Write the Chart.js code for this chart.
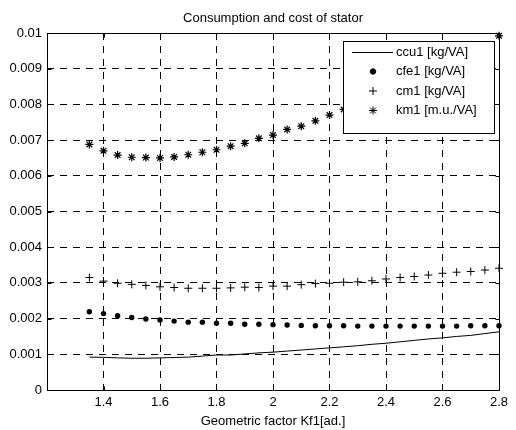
<!DOCTYPE html>
<html>
<head>
<meta charset="utf-8">
<script src="https://cdn.jsdelivr.net/npm/chart.js@4.4.0/dist/chart.umd.min.js"></script>
<style>
html, body { margin: 0; padding: 0; background: #fff; }
</style>
</head>
<body>
<canvas id="myChart" width="516" height="430"></canvas>
<script>
// geometric factor Kf1 and stator consumption / cost per VA
var kf1 = [1.35, 1.40, 1.45, 1.50, 1.55, 1.60, 1.65, 1.70, 1.75, 1.80,
           1.85, 1.90, 1.95, 2.00, 2.05, 2.10, 2.15, 2.20, 2.25, 2.30,
           2.35, 2.40, 2.45, 2.50, 2.55, 2.60, 2.65, 2.70, 2.75, 2.80];
var ccu1 = [0.00092, 0.000915, 0.00090, 0.00089, 0.00089, 0.00090, 0.00091, 0.00092, 0.00095, 0.00098,
            0.00098, 0.00101, 0.00104, 0.00106, 0.00109, 0.00112, 0.00115, 0.00118, 0.00121, 0.00124,
            0.00128, 0.00131, 0.00135, 0.00139, 0.00143, 0.00146, 0.00150, 0.00153, 0.00158, 0.00163];
var cfe1 = [0.00219, 0.00214, 0.00208, 0.00203, 0.00199, 0.00196, 0.00193, 0.00190, 0.00190, 0.00187,
            0.00187, 0.00184, 0.00184, 0.00183, 0.00182, 0.00181, 0.00180, 0.00180, 0.00180, 0.00179,
            0.00179, 0.00179, 0.00179, 0.00179, 0.00179, 0.00179, 0.00179, 0.00180, 0.00180, 0.00180];
var cm1 = [0.00315, 0.00305, 0.00299, 0.00296, 0.00293, 0.00289, 0.00287, 0.00285, 0.00285, 0.00285,
           0.00286, 0.00288, 0.00287, 0.00291, 0.00291, 0.00295, 0.00298, 0.00299, 0.00302, 0.00303,
           0.00306, 0.00311, 0.00315, 0.00318, 0.00322, 0.00327, 0.00330, 0.00332, 0.00336, 0.00341];
var km1 = [0.00688, 0.00670, 0.00658, 0.00652, 0.00651, 0.00650, 0.00653, 0.00659, 0.00666, 0.00673,
           0.00683, 0.00691, 0.00705, 0.00714, 0.00730, 0.00739, 0.00754, 0.00770, 0.00786, 0.00802,
           0.00819, 0.00836, 0.00853, 0.00870, 0.00887, 0.00904, 0.00922, 0.00940, 0.00960, 0.00992];
var seriesNames = ['ccu1 [kg/VA]', 'cfe1 [kg/VA]', 'cm1 [kg/VA]', 'km1 [m.u./VA]'];
var plotTitle = 'Consumption and cost of stator';

var FONT = 'Liberation Sans, Arial, sans-serif';

function pts(ys) {
    var out = [];
    for (let i = 0; i < kf1.length; i++) {
        out.push({ x: kf1[i], y: ys[i] });
    }
    return out;
}

// title centred over the axes rather than the whole canvas
var axesTitle = {
    id: 'axesTitle',
    afterDraw(chart) {
        var ctx = chart.ctx;
        var a = chart.chartArea;
        ctx.save();
        ctx.font = '13px ' + FONT;
        ctx.fillStyle = '#000';
        ctx.textAlign = 'center';
        ctx.textBaseline = 'middle';
        ctx.fillText(plotTitle, (a.left + a.right) / 2, a.top - 15);
        ctx.restore();
    }
};

// legend drawn inside the axes, top right, with a white box
var boxLegend = {
    id: 'boxLegend',
    afterDatasetsDraw(chart) {
        var ctx = chart.ctx;
        var area = chart.chartArea;
        var w = 151, h = 92;
        var x0 = area.right - 5 - w;
        var y0 = area.top + 8;
        ctx.save();
        ctx.fillStyle = '#fff';
        ctx.fillRect(x0, y0, w, h);
        ctx.strokeStyle = '#000';
        ctx.lineWidth = 1;
        ctx.strokeRect(Math.round(x0) + 0.5, Math.round(y0) + 0.5, w, h);
        ctx.font = '13px ' + FONT;
        ctx.textBaseline = 'middle';
        ctx.fillStyle = '#000';
        chart.data.datasets.forEach(function (ds, i) {
            var cy = y0 + 11 + i * 19.5;
            var cx = x0 + 30;
            if (ds.showLine !== false) {
                ctx.beginPath();
                ctx.moveTo(x0 + 9, Math.round(cy) + 0.5);
                ctx.lineTo(x0 + 50, Math.round(cy) + 0.5);
                ctx.lineWidth = 1;
                ctx.strokeStyle = '#000';
                ctx.stroke();
            } else {
                ctx.fillStyle = '#000';
                ctx.strokeStyle = '#000';
                ctx.lineWidth = 1;
                Chart.helpers.drawPoint(ctx, {
                    pointStyle: ds.pointStyle,
                    radius: ds.pointRadius,
                    borderWidth: 1,
                    rotation: 0
                }, cx, cy);
            }
            ctx.fillStyle = '#000';
            ctx.fillText(ds.label, x0 + 53, cy);
        });
        ctx.restore();
    }
};

// solid axes box with short inward ticks on all four sides
var axesFrame = {
    id: 'axesFrame',
    afterDraw(chart) {
        var ctx = chart.ctx;
        var a = chart.chartArea;
        var L = Math.round(a.left) + 0.5, R = Math.round(a.right) + 0.5;
        var T = Math.round(a.top) + 0.5, B = Math.round(a.bottom) + 0.5;
        var tl = 4;
        ctx.save();
        ctx.strokeStyle = '#000';
        ctx.lineWidth = 1;
        ctx.beginPath();
        chart.scales.x.ticks.forEach(function (t) {
            var px = Math.round(chart.scales.x.getPixelForValue(t.value)) + 0.5;
            ctx.moveTo(px, B); ctx.lineTo(px, B - tl);
            ctx.moveTo(px, T); ctx.lineTo(px, T + tl);
        });
        chart.scales.y.ticks.forEach(function (t) {
            var py = Math.round(chart.scales.y.getPixelForValue(t.value)) + 0.5;
            ctx.moveTo(L, py); ctx.lineTo(L + tl, py);
            ctx.moveTo(R, py); ctx.lineTo(R - tl, py);
        });
        ctx.stroke();
        ctx.strokeRect(L, T, R - L, B - T);
        ctx.restore();
    }
};

var ctx = document.getElementById('myChart');
var chart = new Chart(ctx, {
    type: 'line',
    data: {
        datasets: [
            {
                label: seriesNames[0],
                data: pts(ccu1),
                borderColor: '#000',
                borderWidth: 1,
                pointRadius: 0,
                tension: 0,
                fill: false,
                clip: false
            },
            {
                label: seriesNames[1],
                data: pts(cfe1),
                showLine: false,
                pointStyle: 'circle',
                pointRadius: 2.7,
                pointBackgroundColor: '#000',
                pointBorderColor: '#000',
                pointBorderWidth: 0,
                clip: false
            },
            {
                label: seriesNames[2],
                data: pts(cm1),
                showLine: false,
                pointStyle: 'cross',
                pointRadius: 4,
                pointBorderColor: '#000',
                pointBorderWidth: 1,
                clip: false
            },
            {
                label: seriesNames[3],
                data: pts(km1),
                showLine: false,
                pointStyle: 'star',
                pointRadius: 4,
                pointBorderColor: '#000',
                pointBorderWidth: 1.2,
                clip: false
            }
        ]
    },
    options: {
        responsive: false,
        animation: false,
        devicePixelRatio: 1,
        layout: { padding: { left: 0, right: 17, top: 33, bottom: 0 } },
        elements: { point: { hoverRadius: 0 } },
        scales: {
            x: {
                type: 'linear',
                min: 1.2,
                max: 2.8,
                afterBuildTicks: function (scale) {
                    scale.ticks = scale.ticks.filter(function (t) { return t.value > 1.3; });
                },
                afterFit: function (scale) { scale.height = 40; },
                ticks: {
                    stepSize: 0.2,
                    padding: 5,
                    color: '#000',
                    font: { family: FONT, size: 13 },
                    maxRotation: 0,
                    callback: function (v) { return Number(v.toFixed(1)).toString(); }
                },
                grid: { color: '#000', lineWidth: 1, drawTicks: false },
                border: { display: false, dash: [7, 6] },
                title: {
                    display: true,
                    text: 'Geometric factor Kf1[ad.]',
                    color: '#000',
                    font: { family: FONT, size: 13 },
                    padding: { top: 0, bottom: 0.5 }
                }
            },
            y: {
                min: 0,
                max: 0.01,
                afterFit: function (scale) { scale.width = 47; },
                ticks: {
                    stepSize: 0.001,
                    padding: 5,
                    color: '#000',
                    font: { family: FONT, size: 13 },
                    callback: function (v) { return Number(v.toFixed(3)).toString(); }
                },
                grid: { color: '#000', lineWidth: 1, drawTicks: false },
                border: { display: false, dash: [7, 6] }
            }
        },
        plugins: {
            legend: { display: false },
            tooltip: { enabled: false },
            title: { display: false }
        }
    },
    plugins: [boxLegend, axesFrame, axesTitle]
});
</script>
</body>
</html>
